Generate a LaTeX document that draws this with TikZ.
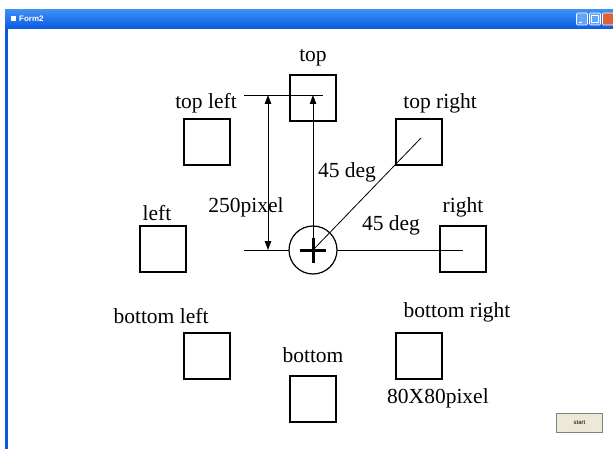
\documentclass[tikz,border=0pt]{standalone}
\usepackage{fontspec}
\setmainfont{Liberation Serif}
\newfontfamily\uifont{Liberation Sans}
\usetikzlibrary{arrows.meta,shapes.geometric}
\definecolor{xpblue}{HTML}{0A5AE0}
\definecolor{xplight}{HTML}{3C8EF5}
\definecolor{btnface}{HTML}{ECE9D8}
\definecolor{xpred}{HTML}{E0603A}
\tikzset{
  sq/.style={draw, line width=1.6pt, minimum size=46.5pt, inner sep=0pt, fill=white},
  lbl/.style={font=\fontsize{21.5}{23}\selectfont, inner sep=0pt},
  thin/.style={line width=0.8pt},
  tip/.style={Triangle[length=9pt,width=6.5pt]},
  arr/.style={thin, -{Triangle[length=9pt,width=6.5pt]}},
  dblarr/.style={thin, {Triangle[length=9pt,width=6.5pt]}-{Triangle[length=9pt,width=6.5pt]}},
  winbtn/.style={draw=white, line width=0.6pt, rounded corners=1pt, minimum width=11pt, minimum height=12pt, inner sep=0pt},
}
\begin{document}
\begin{tikzpicture}[x=1pt,y=-1pt]
\useasboundingbox (0,0) rectangle (613,449);
\fill[white] (0,0) rectangle (613,449);
% window frame
\shade[top color=xplight, bottom color=xpblue] (5,10) rectangle (613,29);
\fill[xpblue] (5,29) rectangle (8,449);
\node[winbtn, fill=xplight!80!white] (minb) at (582,19) {};
\node[winbtn, fill=xplight!80!white] (maxb) at (595,19) {};
\node[winbtn, fill=xpred] (closeb) at (608,19) {};
\fill[white] (minb.center)+(-3,3) rectangle +(0,4.5);
\draw[white, line width=0.8pt] (maxb.center)+(-3.5,-3.5) rectangle +(3.5,3.5);
\node[font=\uifont\fontsize{8}{9}\selectfont\bfseries, text=white, anchor=west, inner sep=0pt] (title) at (19,19) {Form2};
\fill[white] (11,16) rectangle (16,21);
% boxes
\node[sq] (top) at (313,98) {};
\node[sq] (topleft) at (207,142) {};
\node[sq] (topright) at (419,142) {};
\node[sq] (left) at (163,249) {};
\node[sq] (right) at (463,249) {};
\node[sq] (bottomleft) at (207,356) {};
\node[sq] (bottomright) at (419,356) {};
\node[sq] (bottom) at (313,399) {};
% labels
\node[lbl] (ltop) at (313,58) {top};
\node[lbl] (ltopleft) at (206,103) {top left};
\node[lbl] (ltopright) at (440,103) {top right};
\node[lbl] (lleft) at (157,213) {left};
\node[lbl] (lright) at (463,207) {right};
\node[lbl] (lbottomleft) at (161,316) {bottom left};
\node[lbl] (lbottomright) at (457,312) {bottom right};
\node[lbl] (lbottom) at (313,355) {bottom};
\node[lbl] (lsize) at (438,398) {80X80pixel};
\node[lbl] (ldist) at (246,207) {250pixel};
\node[lbl] (ldeg1) at (347,172) {45 deg};
\node[lbl] (ldeg2) at (391,225) {45 deg};
% geometry
\coordinate (c) at (313,250);
\coordinate (tipTop) at (313,95);
\coordinate (refTopL) at (244,95);
\coordinate (refTopR) at (323,95);
\coordinate (refBotL) at (244,250);
\coordinate (refRight) at (463,250);
\coordinate (dimTop) at (268,95);
\coordinate (dimBot) at (268,250);
\coordinate (diagEnd) at (421,138);
\draw[thin] (refTopL) -- (refTopR);
\draw[thin] (refBotL) -- (refRight);
\draw[dblarr] (dimBot) -- (dimTop);
\node[circle, draw, line width=1.2pt, fill=white, minimum size=48pt, inner sep=0pt] (ring) at (c) {};
\draw[arr] (c) -- (tipTop);
\draw[thin] (c) -- (diagEnd);
\draw[line width=3pt] ([xshift=-13pt]c) -- ([xshift=13pt]c);
\draw[line width=3pt] ([yshift=-13pt]c) -- ([yshift=12pt]c);
% start button
\node[draw=gray, line width=1pt, fill=btnface, minimum width=46pt, minimum height=19pt, inner sep=0pt, font=\uifont\fontsize{6}{7}\selectfont] (start) at (579.5,423) {start};
\end{tikzpicture}
\end{document}
